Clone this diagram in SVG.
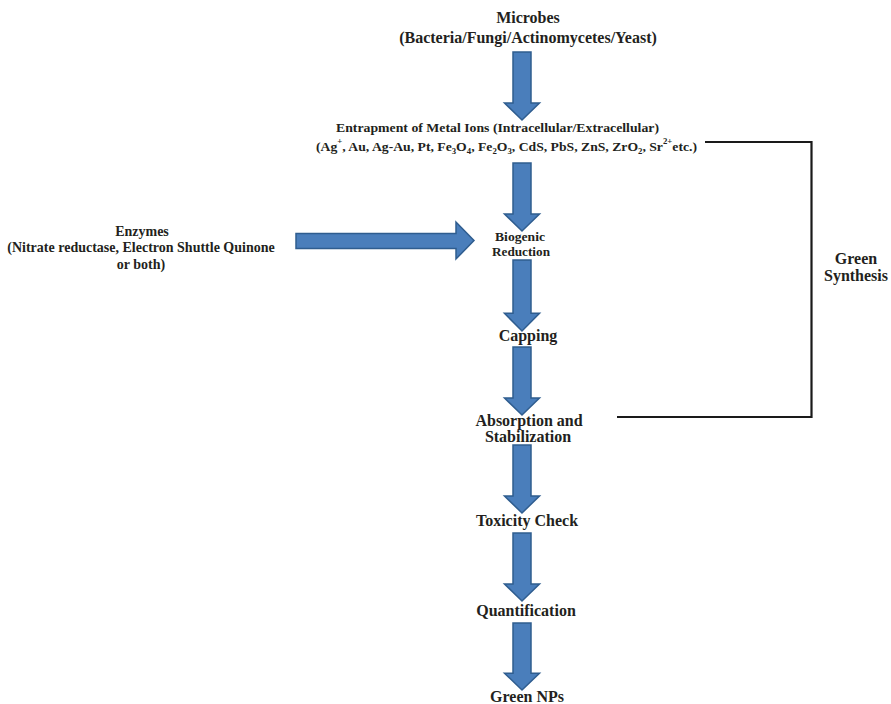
<svg xmlns="http://www.w3.org/2000/svg" width="891" height="704" viewBox="0 0 891 704">
<style>
text{font-family:"Liberation Serif","Times New Roman",serif;font-weight:bold;fill:#231f20;}
.big{font-size:16px;}
.mid{font-size:14px;}
.sm{font-size:12.5px;}
.arr{fill:#4a7ebb;stroke:#2f5d8f;stroke-width:1.5;stroke-linejoin:miter;}
.br{fill:none;stroke:#1a1a1a;stroke-width:2.2;}
.sub{font-size:8px;}
</style>
<defs>
<path id="dn" d="M-9,0 H9 V51 H17.5 L0,68 L-17.5,51 H-9 Z"/>
</defs>
<rect width="891" height="704" fill="#fff"/>

<g id="connectors">
<use href="#dn" class="arr" transform="translate(522,52) scale(1,1)"/>
<use href="#dn" class="arr" transform="translate(522,163) scale(1,1)"/>
<use href="#dn" class="arr" transform="translate(522,260) scale(1,1.044)"/>
<use href="#dn" class="arr" transform="translate(522,347) scale(1,0.10e1)"/>
<use href="#dn" class="arr" transform="translate(522,445) scale(1,1.0)"/>
<use href="#dn" class="arr" transform="translate(522,533) scale(1,1.0)"/>
<use href="#dn" class="arr" transform="translate(522,623) scale(1,0.985)"/>
<path class="arr" d="M296,233.5 H456 V222 L474,240.5 L456,259 V248.5 H296 Z"/>
<path class="br" d="M705,142 H811.5 V417 H617"/>
</g>

<g id="microbes">
<text class="big" x="528" y="23" text-anchor="middle">Microbes</text>
<text class="big" x="528" y="43" text-anchor="middle">(Bacteria/Fungi/Actinomycetes/Yeast)</text>
</g>

<g id="entrapment">
<text class="sm" x="336" y="132" textLength="323" lengthAdjust="spacingAndGlyphs">Entrapment of Metal Ions (Intracellular/Extracellular)</text>
<text class="sm" x="316" y="151" textLength="381" lengthAdjust="spacingAndGlyphs">(Ag<tspan class="sub" dy="-7">+</tspan><tspan dy="7">, Au, Ag-Au, Pt, Fe</tspan><tspan class="sub" dy="3">3</tspan><tspan dy="-3">O</tspan><tspan class="sub" dy="3">4</tspan><tspan dy="-3">, Fe</tspan><tspan class="sub" dy="3">2</tspan><tspan dy="-3">O</tspan><tspan class="sub" dy="3">3</tspan><tspan dy="-3">, CdS, PbS, ZnS, ZrO</tspan><tspan class="sub" dy="3">2</tspan><tspan dy="-3">, Sr</tspan><tspan class="sub" dy="-7">2+</tspan><tspan dy="7">etc.)</tspan></text>
</g>

<g id="enzymes">
<text class="mid" x="142" y="236" text-anchor="middle">Enzymes</text>
<text class="mid" x="141" y="252" text-anchor="middle">(Nitrate reductase, Electron Shuttle Quinone</text>
<text class="mid" x="141" y="269" text-anchor="middle">or both)</text>
</g>

<g id="biogenic">
<text class="sm" x="520" y="241" text-anchor="middle" textLength="50" lengthAdjust="spacingAndGlyphs">Biogenic</text>
<text class="sm" x="521" y="256" text-anchor="middle" textLength="58" lengthAdjust="spacingAndGlyphs">Reduction</text>
</g>

<g id="capping">
<text class="big" x="528" y="341" text-anchor="middle">Capping</text>
</g>

<g id="absorption">
<text class="big" x="529" y="426" text-anchor="middle">Absorption and</text>
<text class="big" x="528" y="442" text-anchor="middle">Stabilization</text>
</g>

<g id="toxicity">
<text class="big" x="527" y="526" text-anchor="middle">Toxicity Check</text>
</g>

<g id="quantification">
<text class="big" x="526" y="616" text-anchor="middle">Quantification</text>
</g>

<g id="greennps">
<text class="big" x="527" y="702" text-anchor="middle">Green NPs</text>
</g>

<g id="greensynthesis">
<text class="big" x="856" y="264" text-anchor="middle">Green</text>
<text class="big" x="856" y="281" text-anchor="middle">Synthesis</text>
</g>
</svg>
